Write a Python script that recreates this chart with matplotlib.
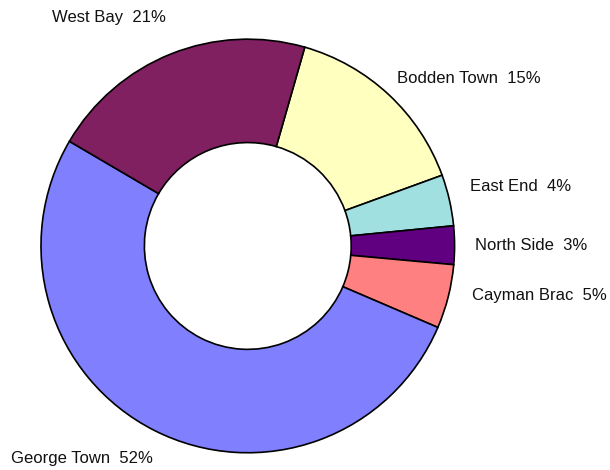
import numpy as np
import matplotlib
matplotlib.use("Agg")
import matplotlib.pyplot as plt

# district share of population, clockwise from Bodden Town
districts = ["Bodden Town", "East End", "North Side", "Cayman Brac", "George Town", "West Bay"]
shares = [15, 4, 3, 5, 52, 21]
colors = ["#ffffc0", "#a0e0e0", "#600080", "#ff8080", "#8080ff", "#802060"]

labels = [f"{d}  {s}%" for d, s in zip(districts, shares)]
# how far out each label sits (horizontal / vertical, in pie radii)
label_rx = [1.06, 1.1, 1.1, 1.12, 1.02, 1.07]
label_ry = [1.11, 1.29, 1.1, 0.97, 1.15, 1.19]

plt.rcParams["font.family"] = ["Liberation Sans", "DejaVu Sans"]

fig = plt.figure(figsize=(6.1, 4.7), dpi=100)
ax = fig.add_axes([0.0672, 0.0362, 0.678, 0.881])
wedges, texts = ax.pie(shares, labels=labels, colors=colors, startangle=74,
                       counterclock=False, labeldistance=1.1, radius=1.0,
                       wedgeprops=dict(width=0.5, edgecolor="black", linewidth=1.2),
                       textprops=dict(fontsize=12, color="#111111"))

# nudge the labels to roughly where the original has them
for w, t, rx, ry in zip(wedges, texts, label_rx, label_ry):
    ang = np.deg2rad((w.theta1 + w.theta2) / 2)
    t.set_position((rx * np.cos(ang), ry * np.sin(ang)))

ax.set_xlim(-1, 1)
ax.set_ylim(-1, 1)
ax.set_aspect("equal")
ax.axis("off")

fig.savefig("out.png", dpi=100)
